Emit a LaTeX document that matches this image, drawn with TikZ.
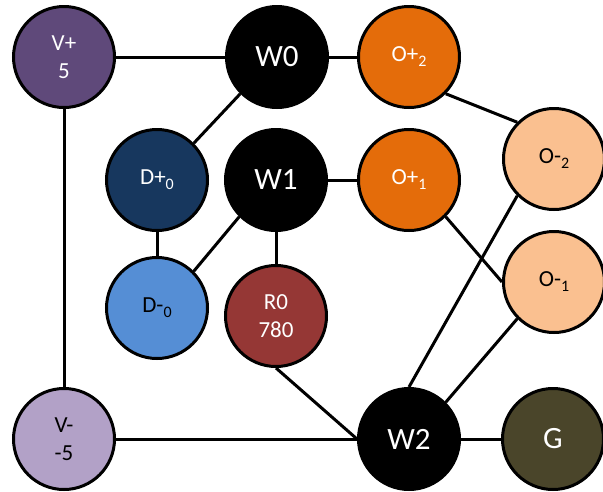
\documentclass[tikz,border=0pt]{standalone}
\usepackage{fontspec}
\setmainfont{Carlito}
\definecolor{vplus}{HTML}{5F497A}
\definecolor{vminus}{HTML}{B2A1C7}
\definecolor{dplus}{HTML}{17375E}
\definecolor{dminus}{HTML}{558ED5}
\definecolor{rcol}{HTML}{953735}
\definecolor{oplus}{HTML}{E46C0A}
\definecolor{ominus}{HTML}{FAC090}
\definecolor{gcol}{HTML}{4A452A}
\newcommand{\sbs}[1]{\raisebox{-5pt}{\fontsize{16}{16}\selectfont #1}}
\tikzset{
  ball/.style={circle, draw=black, line width=3pt, minimum size=101pt, inner sep=0pt, align=center, font=\fontsize{23}{28}\selectfont},
  bigball/.style={ball, fill=black, text=white, font=\fontsize{31}{31}\selectfont},
  link/.style={line width=3pt}
}
\begin{document}
\begin{tikzpicture}[x=1pt,y=-1pt]
\useasboundingbox (0,0) rectangle (603,491);
\node[ball, fill=vplus, text=white] (vp) at (64,57) {V+\\5};
\node[bigball] (w0) at (277,57) {W0};
\node[ball, fill=oplus, text=white] (op2) at (409,57) {O+\sbs{2}};
\node[ball, fill=ominus, text=black] (om2) at (554,159) {O-\sbs{2}};
\node[ball, fill=dplus, text=white] (dp) at (157,180) {D+\sbs{0}};
\node[bigball] (w1) at (276,180) {W1};
\node[ball, fill=oplus, text=white] (op1) at (409,180) {O+\sbs{1}};
\node[ball, fill=ominus, text=black] (om1) at (554,282) {O-\sbs{1}};
\node[ball, fill=dminus, text=black] (dm) at (157,308) {D-\sbs{0}};
\node[ball, fill=rcol, text=white] (r0) at (276,316) {R0\\780};
\node[ball, fill=vminus, text=black] (vm) at (64,439) {V-\\-5};
\node[bigball] (w2) at (409,439) {W2};
\node[ball, fill=gcol, text=white, font=\fontsize{31}{31}\selectfont] (g) at (553,439) {G};
\draw[link] (vp.east) -- (w0.west);
\draw[link] (vp.south) -- (vm.north);
\draw[link] (w0.east) -- (op2.west);
\draw[link] (w0.south west) -- (dp.north east);
\draw[link] (dp.south) -- (dm.north);
\draw[link] (w1.south west) -- (dm.north east);
\draw[link] (w1.east) -- (op1.west);
\draw[link] (w1.south) -- (r0.north);
\draw[link] (op2.south east) -- (om2.north west);
\draw[link] (op1.south east) -- (om1.west);
\draw[link] (om2.south west) -- (w2.north);
\draw[link] (om1.south west) -- (w2.north east);
\draw[link] (r0.south) -- (w2.west);
\draw[link] (vm.east) -- (w2.west);
\draw[link] (w2.east) -- (g.west);
\end{tikzpicture}
\end{document}
